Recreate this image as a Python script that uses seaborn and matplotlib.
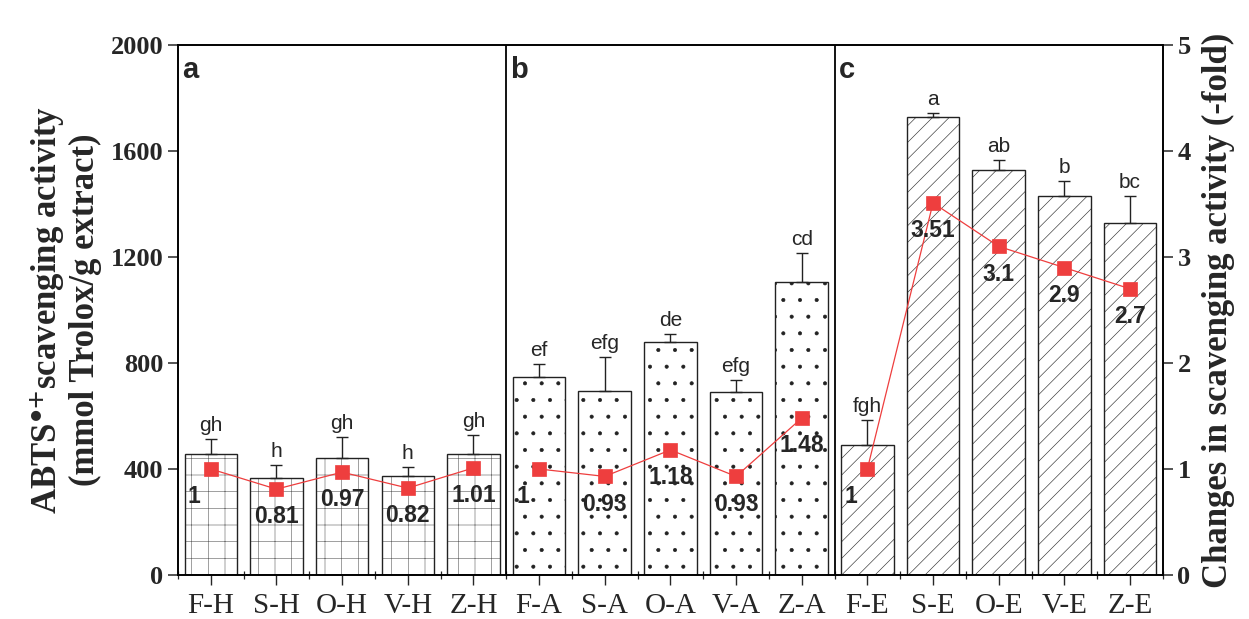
import numpy as np
import pandas as pd
import matplotlib
matplotlib.use("Agg")
import matplotlib.pyplot as plt
import matplotlib.colors as mcolors
import seaborn as sns

samples = ["F-H", "S-H", "O-H", "V-H", "Z-H",
           "F-A", "S-A", "O-A", "V-A", "Z-A",
           "F-E", "S-E", "O-E", "V-E", "Z-E"]
groups = ["H"] * 5 + ["A"] * 5 + ["E"] * 5
activity = [457, 366, 442, 374, 457,
            747, 694, 879, 691, 1106,
            490, 1728, 1528, 1430, 1328]
activity_sd = [56, 49, 79, 33, 71,
               49, 129, 30, 45, 109,
               95, 15, 38, 57, 102]
letters = ["gh", "h", "gh", "h", "gh",
           "ef", "efg", "de", "efg", "cd",
           "fgh", "a", "ab", "b", "bc"]
fold = [1, 0.81, 0.97, 0.82, 1.01,
        1, 0.93, 1.18, 0.93, 1.48,
        1, 3.51, 3.1, 2.9, 2.7]
fold_labels = ["1", "0.81", "0.97", "0.82", "1.01",
               "1", "0.93", "1.18", "0.93", "1.48",
               "1", "3.51", "3.1", "2.9", "2.7"]
panels = ["a", "b", "c"]
hatches = {"H": "+", "A": ".", "E": "//"}
hatch_colors = {"H": "#6a6a6a", "A": "#222222", "E": "#333333"}

RED = "#ee3e3e"
EDGE = "#222222"
SERIF = "Liberation Serif"
SANS = "Liberation Sans"

sns.set_style("ticks")
plt.rcParams.update(
    {
        "font.family": SERIF,
        "mathtext.fontset": "stix",
        "hatch.linewidth": 0.45,
        "hatch.color": "#333333",
        "axes.linewidth": 1.2,
        "axes.edgecolor": "black",
    }
)

df = pd.DataFrame(
    {
        "sample": samples,
        "group": groups,
        "activity": activity,
        "sd": activity_sd,
        "letter": letters,
        "fold": fold,
        "fold_label": fold_labels,
    }
)
df["pos"] = np.arange(len(df))

fig = plt.figure(figsize=(12.49, 6.19), dpi=100)
ax = fig.add_axes([0.1425, 0.0711, 0.7885, 0.8562])

sns.barplot(
    data=df, x="sample", y="activity", order=samples, color="white",
    edgecolor=EDGE, linewidth=1.0, width=0.8, errorbar=None,
    saturation=1, ax=ax,
)
for patch, grp in zip(ax.patches, df["group"]):
    patch.set_hatch(hatches[grp])
    # no public per-patch hatch colour in this matplotlib
    patch._hatch_color = mcolors.to_rgba(hatch_colors[grp])

ax.errorbar(
    df["pos"], df["activity"], yerr=[np.zeros(len(df)), df["sd"]],
    fmt="none", ecolor=EDGE, elinewidth=1.0, capsize=4.5, capthick=1.0,
    zorder=3,
)

for _, row in df.iterrows():
    ax.annotate(
        row["letter"], xy=(row["pos"], row["activity"] + row["sd"]),
        xytext=(0, 3), textcoords="offset points", ha="center",
        va="bottom", fontsize=15, family=SANS,
    )

n_per = len(samples) // len(panels)
for i, p in enumerate(panels):
    ax.annotate(
        p, xy=(i * n_per - 0.5, 1), xycoords=("data", "axes fraction"),
        xytext=(3, -8), textcoords="offset points", ha="left", va="top",
        fontsize=21, fontweight="bold", family=SANS,
    )
    if i > 0:
        ax.axvline(i * n_per - 0.5, color="black", lw=1.3)

ax.set_xlim(-0.5, len(samples) - 0.5)
ax.set_ylim(0, 2000)
ax.set_yticks(range(0, 2001, 400))
ax.set_xticks(np.arange(len(samples) + 1) - 0.5, minor=True)
ax.tick_params(axis="y", direction="out", length=7, width=1.1, labelsize=19)
ax.tick_params(axis="x", which="major", direction="out", length=7,
               width=1.0, labelsize=21, pad=6)
ax.tick_params(axis="x", which="minor", direction="inout", length=6,
               width=0.9)
plt.setp(ax.get_yticklabels(), fontweight="bold")
ax.set_xlabel("")
ax.set_ylabel(
    "ABTS$^{\\mathbf{\\bullet}\\mathbf{+}}$scavenging activity\n"
    "(mmol Trolox/g extract)",
    fontsize=25, fontweight="bold", linespacing=1.1, labelpad=6,
)

ax2 = ax.twinx()
sns.lineplot(
    data=df, x="pos", y="fold", hue="group",
    palette={g: RED for g in hatches}, legend=False, sort=False,
    marker="s", markersize=9.5, markeredgecolor=RED, markeredgewidth=0.5,
    linewidth=0.9, ax=ax2,
)
for _, row in df.iterrows():
    dx = -12 if row["fold_label"] == "1" else 0
    ax2.annotate(
        row["fold_label"], xy=(row["pos"], row["fold"]), xytext=(dx, -20),
        textcoords="offset points", ha="center", va="center",
        fontsize=16.5, fontweight="bold", family=SANS,
    )
ax2.set_ylim(0, 5)
ax2.set_yticks(range(0, 6))
ax2.tick_params(axis="y", direction="out", length=7, width=1.1, labelsize=19)
plt.setp(ax2.get_yticklabels(), fontweight="bold")
ax2.set_xlabel("")
ax2.set_ylabel("Changes in scavenging activity (-fold)", fontsize=25,
               fontweight="bold", labelpad=8)

fig.savefig("out.png", dpi=100)
